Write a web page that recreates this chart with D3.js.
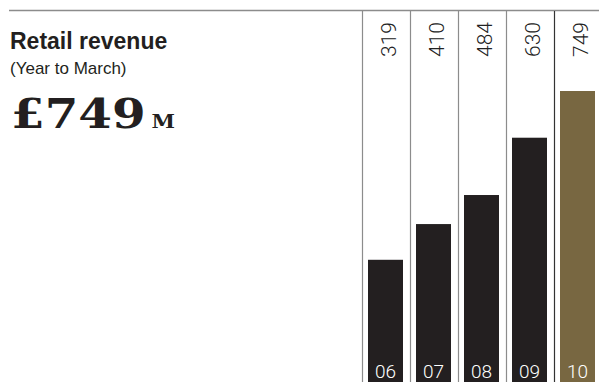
<!DOCTYPE html>
<html>
<head>
<meta charset="utf-8">
<script src="https://cdn.jsdelivr.net/npm/d3@7"></script>
<style>
  body { margin: 0; background: #fff; }
  svg { display: block; }
</style>
</head>
<body>
<div id="chart_area"></div>
<script>
var years = ["06", "07", "08", "09", "10"];
var revenue = [319, 410, 484, 630, 749];
var title = "Retail revenue";
var subtitle = "(Year to March)";
var headline = "£749";
var headlineUnit = "M";

function drawRetailChart() {
    var width = 599, height = 382;
    var dark = "#231f20", gold = "#786741";

    var svg = d3.select("#chart_area")
        .append("svg")
        .attr("width", width)
        .attr("height", height);

    var data = years.map(function (y, i) { return { year: y, value: revenue[i] }; });

    var x = d3.scaleBand()
        .domain(years)
        .range([362, 602]);

    var y = d3.scaleLinear()
        .domain([0, d3.max(revenue)])
        .range([385, 91]);

    // top rule
    svg.append("line")
        .attr("x1", 9).attr("x2", width)
        .attr("y1", 10.5).attr("y2", 10.5)
        .attr("stroke", "#8c8c8c")
        .attr("stroke-width", 1.5);

    // column dividers
    svg.selectAll(".divider")
        .data(data)
        .enter()
        .append("line")
        .attr("class", "divider")
        .attr("x1", function (d) { return x(d.year) + 0.5; })
        .attr("x2", function (d) { return x(d.year) + 0.5; })
        .attr("y1", 11)
        .attr("y2", height)
        .attr("stroke", function (d, i) { return i === data.length - 1 ? "#333" : "#8c8c8c"; })
        .attr("stroke-width", 1.2);

    var barW = 35, barOff = 6;

    svg.selectAll(".bar")
        .data(data)
        .enter()
        .append("rect")
        .attr("class", "bar")
        .attr("x", function (d) { return x(d.year) + barOff; })
        .attr("y", function (d) { return y(d.value); })
        .attr("width", barW)
        .attr("height", function (d) { return y(0) - y(d.value); })
        .attr("fill", function (d, i) { return i === data.length - 1 ? gold : dark; });

    // values, rotated at top of each column
    svg.selectAll(".val")
        .data(data)
        .enter()
        .append("text")
        .attr("class", "val")
        .attr("transform", function (d) {
            return "translate(" + (x(d.year) + barOff + barW / 2 + 10) + ",57) rotate(-90)";
        })
        .attr("font-family", "Roboto, 'Liberation Sans', sans-serif")
        .attr("font-weight", 300)
        .attr("font-size", 21)
        .attr("fill", "#222")
        .text(function (d) { return d.value; });

    // year labels inside bars
    svg.selectAll(".yr")
        .data(data)
        .enter()
        .append("text")
        .attr("class", "yr")
        .attr("x", function (d) { return x(d.year) + barOff + barW / 2; })
        .attr("y", 378)
        .attr("text-anchor", "middle")
        .attr("font-family", "Roboto, 'Liberation Sans', sans-serif")
        .attr("font-weight", 300)
        .attr("font-size", 19)
        .attr("fill", "#fff")
        .text(function (d) { return d.year; });

    // headings
    svg.append("text")
        .attr("x", 10).attr("y", 49)
        .attr("font-family", "'Liberation Sans', Arial, sans-serif")
        .attr("font-weight", "bold")
        .attr("font-size", 23)
        .attr("fill", "#231f20")
        .text(title);

    svg.append("text")
        .attr("x", 10).attr("y", 74)
        .attr("font-family", "'Liberation Sans', Arial, sans-serif")
        .attr("font-size", 17)
        .attr("fill", "#231f20")
        .text(subtitle);

    // big headline figure, widened to match the display face
    var big = svg.append("text")
        .attr("transform", "translate(11,128) scale(1.18,1)")
        .attr("font-family", "'DejaVu Serif', serif")
        .attr("font-weight", "bold")
        .attr("font-size", 41)
        .attr("fill", "#231f20");
    big.append("tspan").text(headline);
    big.append("tspan")
        .attr("dx", 5)
        .attr("font-size", 18)
        .text(headlineUnit);
}

drawRetailChart();
</script>
</body>
</html>
